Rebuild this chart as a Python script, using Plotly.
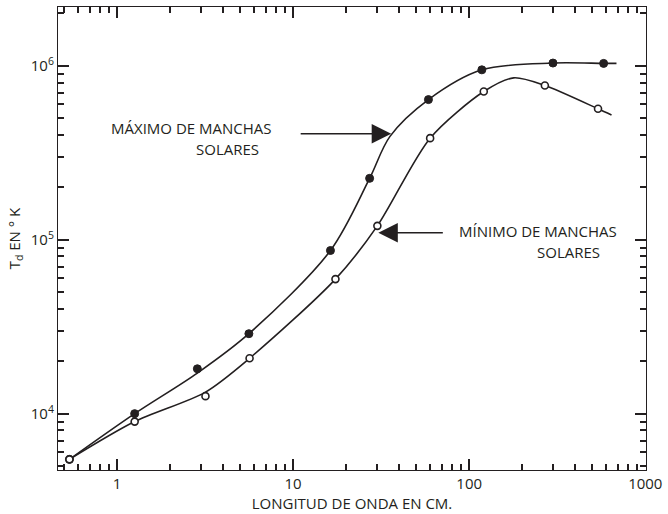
import plotly.graph_objects as go

# measured points (wavelength in cm, brightness temperature in K)
max_x = [0.537, 1.26, 2.86, 5.61, 16.3, 27.2, 58.7, 118, 299, 580]
max_y = [5460, 10000, 18100, 28800, 86600, 225000, 638000, 946000, 1035000, 1030000]

min_x = [0.537, 1.26, 3.18, 5.66, 17.4, 30.1, 60, 121, 269, 539]
min_y = [5460, 9000, 12600, 20800, 59300, 120000, 383000, 710000, 769000, 565000]

# hand-drawn smooth curves through the points
max_curve_x = [0.537, 1.26, 2.86, 5.61, 16.3, 27.2, 35.5, 58.7, 118, 299, 580, 686]
max_curve_y = [5460, 10000, 17100, 28800, 86600, 225000, 392000, 638000, 946000, 1035000, 1030000, 1030000]

min_curve_x = [0.537, 1.26, 3.18, 5.66, 17.4, 30.1, 60, 121, 179, 269, 539, 643]
min_curve_y = [5460, 9000, 13300, 20800, 59300, 120000, 383000, 710000, 851000, 769000, 565000, 520000]

x_ticks = [1, 10, 100, 1000]
x_labels = ["1", "10", "100", "1000"]
y_ticks = [1e4, 1e5, 1e6]
y_labels = ["10<sup>4</sup>", "10<sup>5</sup>", "10<sup>6</sup>"]

ink = "#231f20"
font = "Open Sans, Liberation Sans, sans-serif"

fig = go.Figure()

fig.add_trace(go.Scatter(x=max_curve_x, y=max_curve_y, mode="lines",
                         line=dict(color=ink, width=1.6, shape="spline", smoothing=0.9),
                         hoverinfo="skip"))
fig.add_trace(go.Scatter(x=min_curve_x, y=min_curve_y, mode="lines",
                         line=dict(color=ink, width=1.6, shape="spline", smoothing=0.8),
                         hoverinfo="skip"))
fig.add_trace(go.Scatter(x=max_x, y=max_y, mode="markers", name="Máximo",
                         marker=dict(size=8, color=ink, line=dict(color=ink, width=1))))
fig.add_trace(go.Scatter(x=min_x, y=min_y, mode="markers", name="Mínimo",
                         marker=dict(size=7, color="white", line=dict(color=ink, width=1.6))))

# minor tick positions 2..9 in every decade
minor_x = [m * 10 ** d for d in range(-1, 3) for m in range(2, 10)]
minor_y = [m * 10 ** d for d in range(3, 7) for m in range(2, 10)]

fig.update_xaxes(type="log", range=[-0.335, 3.004],
                 tickmode="array", tickvals=x_ticks, ticktext=x_labels,
                 ticklabeloverflow="allow",
                 ticks="inside", ticklen=11, tickwidth=1.5, tickcolor=ink,
                 minor=dict(tickmode="array", tickvals=minor_x, ticks="inside",
                            ticklen=6, tickwidth=1.5, tickcolor=ink, showgrid=False),
                 showline=True, linecolor=ink, linewidth=1.2, mirror="allticks",
                 showgrid=False, zeroline=False,
                 tickfont=dict(size=15, color=ink, family=font),
                 title=dict(text="LONGITUD DE ONDA EN CM.", standoff=4,
                            font=dict(size=15, color=ink, family=font)))

fig.update_yaxes(type="log", range=[3.676, 6.337],
                 tickmode="array", tickvals=y_ticks, ticktext=y_labels,
                 ticks="inside", ticklen=11, tickwidth=1.5, tickcolor=ink,
                 minor=dict(tickmode="array", tickvals=minor_y, ticks="inside",
                            ticklen=6, tickwidth=1.5, tickcolor=ink, showgrid=False),
                 showline=True, linecolor=ink, linewidth=1.2, mirror="allticks",
                 showgrid=False, zeroline=False,
                 tickfont=dict(size=15, color=ink, family=font),
                 title=dict(text="T<sub>d</sub> EN ° K", standoff=6,
                            font=dict(size=15, color=ink, family=font)))


def px_x(p):
    return (p - 58) / 594


def px_y(p):
    return (474 - p) / 468


txt = dict(size=15, color=ink, family=font)
annotations = [
    dict(x=px_x(110), y=px_y(128), text="MÁXIMO DE MANCHAS", xanchor="left"),
    dict(x=px_x(195), y=px_y(150), text="SOLARES", xanchor="left"),
    dict(x=px_x(461), y=px_y(232), text="MÍNIMO DE MANCHAS", xanchor="left"),
    dict(x=px_x(540), y=px_y(254), text="SOLARES", xanchor="left"),
]
for a in annotations:
    fig.add_annotation(xref="paper", yref="paper", yanchor="middle",
                       showarrow=False, font=txt, **a)

# arrows pointing at the two curves
fig.add_annotation(x=1.557, y=5.608, xref="x", yref="y", text="",
                   showarrow=True, ax=-92, ay=0, arrowhead=2, arrowsize=2.6,
                   arrowwidth=1.5, arrowcolor=ink)
fig.add_annotation(x=1.484, y=5.04, xref="x", yref="y", text="",
                   showarrow=True, ax=66, ay=0, arrowhead=2, arrowsize=2.6,
                   arrowwidth=1.5, arrowcolor=ink)

fig.update_layout(width=668, height=514, showlegend=False,
                  margin=dict(l=58, r=16, t=6, b=40),
                  paper_bgcolor="white", plot_bgcolor="white",
                  font=dict(family=font, color=ink))

# the page body has a default 8px margin; drop it so the figure sits at 0,0
fig.write_html("out.html", config={"displayModeBar": False},
               post_script="document.body.style.margin='0';")
